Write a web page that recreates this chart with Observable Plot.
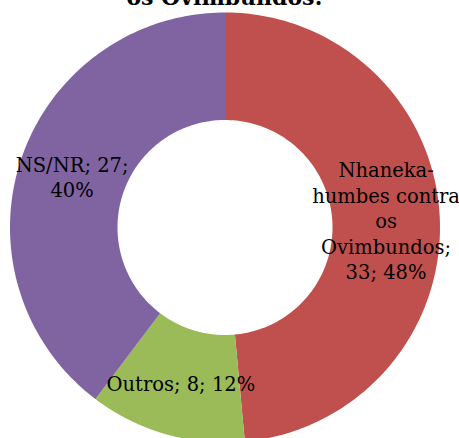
<!DOCTYPE html>
<html>
<head>
<meta charset="utf-8">
<script src="https://cdn.jsdelivr.net/npm/d3@7"></script>
<script src="https://cdn.jsdelivr.net/npm/@observablehq/plot@0.6"></script>
<style>
  html, body { margin: 0; padding: 0; background: #fff; }
  #wrap { position: relative; width: 459px; height: 438px; overflow: hidden; }
  #title { position: absolute; left: 0; width: 449px; top: -14px; text-align: center;
    font-family: "DejaVu Serif", serif; font-weight: bold; font-size: 22px; line-height: 22px; color: #000; }
  #chart { position: absolute; left: 0; top: 0; }
</style>
</head>
<body>
<div id="wrap">
  <div id="chart"></div>
  <div id="title">os Ovimbundos:</div>
</div>
<script>
const categories = ["Nhaneka-humbes contra os Ovimbundos", "Outros", "NS/NR"];
const values = [33, 8, 27];
const percents = [48, 12, 40];
const labelTexts = [
  "Nhaneka-\nhumbes contra\nos\nOvimbundos;\n33; 48%",
  "Outros; 8; 12%",
  "NS/NR; 27;\n40%"
];
const colors = ["#C0504D", "#9BBB59", "#8064A2"];

const innerR = 0.5, outerR = 1;
const arcs = d3.pie().sort(null).value(d => d)(values);

const poly = [];
arcs.forEach((a, i) => {
  const n = 120;
  for (let k = 0; k <= n; k++) {
    const t = a.startAngle + (a.endAngle - a.startAngle) * k / n;
    poly.push({cat: categories[i], x: outerR * Math.sin(t), y: outerR * Math.cos(t)});
  }
  for (let k = n; k >= 0; k--) {
    const t = a.startAngle + (a.endAngle - a.startAngle) * k / n;
    poly.push({cat: categories[i], x: innerR * Math.sin(t), y: innerR * Math.cos(t)});
  }
});

const labels = arcs.map((a, i) => {
  const m = (a.startAngle + a.endAngle) / 2, r = (innerR + outerR) / 2;
  return {text: labelTexts[i], x: r * Math.sin(m), y: r * Math.cos(m)};
});

const chart = Plot.plot({
  width: 459,
  height: 438,
  margin: 0,
  x: {domain: [-1, 1], range: [9.5, 439.5], axis: null},
  y: {domain: [-1, 1], range: [442, 12], axis: null},
  color: {domain: categories, range: colors},
  style: {background: "transparent"},
  marks: [
    Plot.line(poly, {x: "x", y: "y", z: "cat", fill: "cat", stroke: "none", curve: "linear"}),
    Plot.text(labels, {x: "x", y: "y", text: "text", fontSize: 19.5, lineHeight: 1.3,
      fontFamily: "DejaVu Serif", fill: "#000", textAnchor: "middle"})
  ]
});
document.getElementById("chart").appendChild(chart);
</script>
</body>
</html>
